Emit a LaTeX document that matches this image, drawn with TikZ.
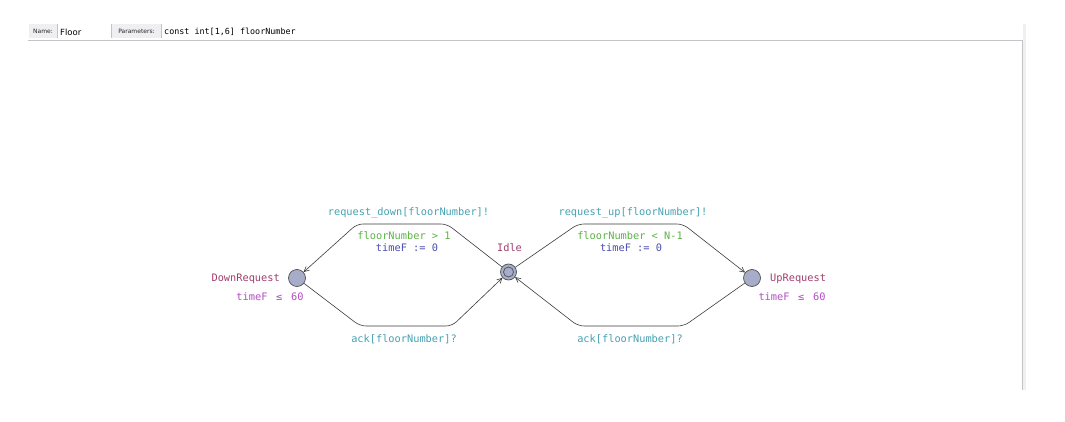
\documentclass[tikz,border=0pt]{standalone}
\usepackage{fontspec}
\setmonofont{DejaVu Sans Mono}
\setsansfont{DejaVu Sans}
\usetikzlibrary{arrows.meta}
\definecolor{syncc}{HTML}{45A2B4}
\definecolor{guardc}{HTML}{5CB347}
\definecolor{updc}{HTML}{4B4BB0}
\definecolor{namec}{HTML}{A03E6C}
\definecolor{invc}{HTML}{B44CC4}
\definecolor{locfill}{HTML}{A7ADC9}
\definecolor{edgec}{HTML}{3C3C3C}
\definecolor{framec}{HTML}{C4C4C8}
\definecolor{hdrfill}{HTML}{EFEFF1}
\begin{document}
\begin{tikzpicture}[x=1pt,y=-1pt,
  loc/.style={circle, draw=edgec!90, line width=0.7pt, fill=locfill, minimum size=17pt, inner sep=0pt},
  initloc/.style={loc, minimum size=16pt},
  edge/.style={draw=edgec, line width=0.6pt, rounded corners=6pt, -{Straight Barb[length=5pt,width=5pt]}},
  lbl/.style={font=\ttfamily\fontsize{10.3}{12}\selectfont, inner sep=0pt},
  sync/.style={lbl, text=syncc},
  guard/.style={lbl, text=guardc},
  upd/.style={lbl, text=updc},
  lname/.style={lbl, text=namec},
  inv/.style={lbl, text=invc},
  hdrlab/.style={font=\sffamily\fontsize{6}{7}\selectfont, inner sep=0pt, text=black!85},
]
\useasboundingbox (0,0) rectangle (1065,422);
\fill[white] (0,0) rectangle (1065,422);

% header
\fill[hdrfill] (29,24) rectangle (57,38);
\fill[hdrfill] (112,24) rectangle (161,38);
\draw[framec, line width=0.6pt] (57,24) -- (57,38);
\draw[framec, line width=0.6pt] (111,24) -- (111,38);
\draw[framec, line width=0.6pt] (161,24) -- (161,38);
\node[hdrlab] (namel) at (43,31.5) {Name:};
\node[font=\sffamily\fontsize{8.5}{10}\selectfont, inner sep=0pt, anchor=west] (namev) at (60,32) {Floor};
\node[hdrlab] (paraml) at (136.5,31.5) {Parameters:};
\node[font=\ttfamily\fontsize{8.4}{10}\selectfont, inner sep=0pt, anchor=west] (paramv) at (164,32) {const int[1,6] floorNumber};
\draw[framec, line width=0.8pt] (28,40) -- (1022,40);
\fill[black!6] (1022.5,24) rectangle (1026,390);
\draw[framec, line width=0.8pt] (1022,40) -- (1022,390);

% locations
\node[loc] (down) at (297,278) {};
\node[initloc] (idle) at (508.5,272) {};
\draw[edgec!90, line width=0.7pt] (idle.center) circle (5pt);
\node[loc] (up) at (752,278) {};

\node[lname, anchor=east] (downname) at (280,279) {DownRequest};
\node[lname] (idlename) at (509.5,248) {Idle};
\node[lname, anchor=west] (upname) at (770,279) {UpRequest};
\node[inv] (downinv) at (270,297) {timeF\ \hspace{2.5pt}≤\ \hspace{2.5pt}60};
\node[inv] (upinv) at (792,297) {timeF\ \hspace{2.5pt}≤\ \hspace{2.5pt}60};

% waypoints
\coordinate (c1) at (447,224);
\coordinate (c2) at (357,224);
\coordinate (b1) at (360,326);
\coordinate (b2) at (452,326);
\coordinate (c3) at (578,224);
\coordinate (c4) at (683,224);
\coordinate (b3) at (684,326);
\coordinate (b4) at (578,326);

% edges
\draw[edge] (idle) -- (c1) -- (c2) -- (down);
\draw[edge] (down) -- (b1) -- (b2) -- (idle);
\draw[edge] (idle) -- (c3) -- (c4) -- (up);
\draw[edge] (up) -- (b3) -- (b4) -- (idle);

% edge labels
\node[sync] (s1) at (408.5,213) {request\_down[floorNumber]!};
\node[guard] (g1) at (404,236) {floorNumber > 1};
\node[upd] (u1) at (407,248) {timeF := 0};
\node[sync] (s2) at (404,339) {ack[floorNumber]?};

\node[sync] (s3) at (633,213) {request\_up[floorNumber]!};
\node[guard] (g3) at (630,236) {floorNumber < N-1};
\node[upd] (u3) at (631,248) {timeF := 0};
\node[sync] (s4) at (630,339) {ack[floorNumber]?};
\end{tikzpicture}
\end{document}
